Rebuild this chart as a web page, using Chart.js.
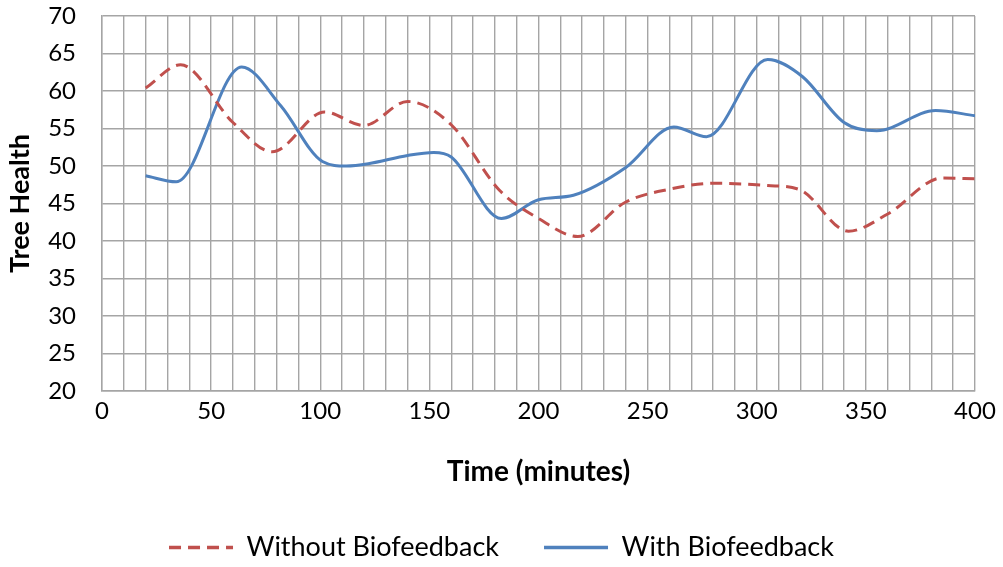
<!DOCTYPE html>
<html>
<head>
<meta charset="utf-8">
<title>Tree Health</title>
<script src="https://cdn.jsdelivr.net/npm/chart.js@4/dist/chart.umd.min.js"></script>
<style>
  html, body { margin: 0; padding: 0; background: #fff; }
</style>
</head>
<body>
<canvas id="healthChart" width="1003" height="567"></canvas>
<script>
// tree health readings, sampled in minutes
const withoutTimes  = [20, 36, 60, 78, 102, 120, 140, 160, 182, 200, 218, 240, 260, 280, 305, 320, 342, 360, 385, 400];
const withoutHealth = [60.4, 63.5, 55.8, 51.9, 57.2, 55.4, 58.6, 55.5, 46.8, 43.0, 40.6, 45.2, 46.9, 47.7, 47.4, 46.8, 41.3, 43.6, 48.4, 48.3];

const withTimes  = [20, 34, 64, 82, 101, 112, 122, 140, 152, 160, 183, 200, 216, 240, 262, 277, 305, 321, 340, 355, 382, 400];
const withHealth = [48.7, 47.9, 63.2, 58.0, 50.6, 50.0, 50.3, 51.4, 51.8, 51.2, 43.0, 45.5, 46.1, 49.8, 55.2, 53.9, 64.2, 61.9, 55.8, 54.7, 57.4, 56.7];

const xTickLabels = [0, 50, 100, 150, 200, 250, 300, 350, 400];

const toPoints = (xs, ys) => xs.map((x, i) => ({ x: x, y: ys[i] }));

Chart.defaults.font.family = "Lato";
Chart.defaults.font.size = 24;
Chart.defaults.color = "#000";

const gridColor = "#A5A5A5";

// legend swatches keep the dash pattern of their dataset
function dashedLabels(chart) {
  const items = Chart.defaults.plugins.legend.labels.generateLabels(chart);
  items.forEach((item) => {
    const ds = chart.data.datasets[item.datasetIndex];
    item.lineDash = ds.borderDash || [];
    item.lineWidth = 3.5;
  });
  return items;
}

let ctx = document.getElementById("healthChart").getContext("2d");

let healthChart = new Chart(ctx, {
  type: "line",
  data: {
    datasets: [
      {
        label: "Without Biofeedback",
        data: toPoints(withoutTimes, withoutHealth),
        borderColor: "#C0504D",
        backgroundColor: "#C0504D",
        borderWidth: 3,
        borderDash: [12, 7],
        pointRadius: 0,
        cubicInterpolationMode: "monotone",
      },
      {
        label: "With Biofeedback",
        data: toPoints(withTimes, withHealth),
        borderColor: "#4F81BD",
        backgroundColor: "#4F81BD",
        borderWidth: 3,
        pointRadius: 0,
        cubicInterpolationMode: "monotone",
      },
    ],
  },
  options: {
    responsive: false,
    animation: false,
    layout: {
      padding: { top: 16, right: 0, left: 0, bottom: 0 },
    },
    plugins: {
      tooltip: { enabled: false },
      legend: {
        position: "bottom",
        maxHeight: 78,
        labels: {
          usePointStyle: true,
          pointStyle: "line",
          pointStyleWidth: 64,
          padding: 45,
          color: "#000",
          font: { size: 27 },
          generateLabels: dashedLabels,
        },
      },
    },
    scales: {
      x: {
        type: "linear",
        min: 0,
        max: 400,
        afterFit: (scale) => {
          scale.height = 98;
          // room on the right for the last tick label
          scale.paddingRight = 28;
        },
        ticks: {
          stepSize: 10,
          autoSkip: false,
          maxRotation: 0,
          padding: 6,
          callback: (v) => (xTickLabels.includes(v) ? v : ""),
        },
        grid: { color: gridColor, lineWidth: 1.4, drawTicks: false },
        border: { color: gridColor, width: 1.4 },
        title: {
          display: true,
          text: "Time (minutes)",
          font: { size: 28, weight: "bold" },
          padding: { top: 4, bottom: 0 },
        },
      },
      y: {
        min: 20,
        max: 70,
        afterFit: (scale) => {
          scale.width = 102;
          // labels may hang over the plot edges; the top stays at the layout padding
          scale.paddingTop = 0;
          scale.paddingBottom = 0;
        },
        ticks: { stepSize: 5, padding: 26 },
        grid: { color: gridColor, lineWidth: 1.4, drawTicks: false },
        border: { color: gridColor, width: 1.4 },
        title: {
          display: true,
          text: "Tree Health",
          font: { size: 27, weight: "bold" },
          padding: { top: 4, bottom: 0 },
        },
      },
    },
  },
});
</script>
</body>
</html>
